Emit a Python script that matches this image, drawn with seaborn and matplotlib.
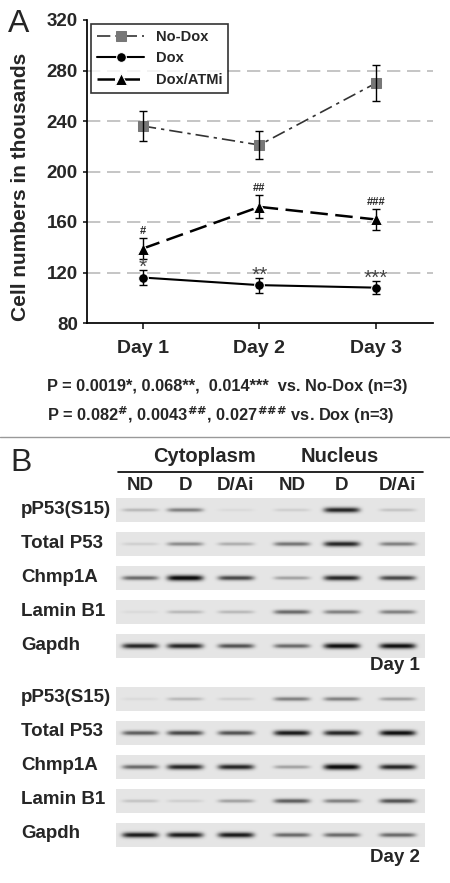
import matplotlib
matplotlib.use("Agg")
import matplotlib.pyplot as plt
import numpy as np
import pandas as pd
import seaborn as sns

# ── Panel A data ──
days = ["Day 1", "Day 2", "Day 3"]
nodox = [236, 221, 270]
nodox_err = [12, 11, 14]
dox = [116, 110, 108]
dox_err = [6, 6, 5]
atmi = [139, 172, 162]
atmi_err = [8, 9, 8]
dox_marks = ["*", "**", "***"]
atmi_marks = ["#", "##", "###"]

# ── Panel B data (relative band intensity per lane: ND, D, D/Ai | ND, D, D/Ai) ──
lanes = ["ND", "D", "D/Ai", "ND", "D", "D/Ai"]
row_names = ["pP53(S15)", "Total P53", "Chmp1A", "Lamin B1", "Gapdh"]
day1_bands = [
    [0.20, 0.45, 0.05, 0.10, 0.85, 0.15],
    [0.10, 0.40, 0.25, 0.50, 0.85, 0.45],
    [0.55, 1.00, 0.70, 0.30, 0.85, 0.70],
    [0.05, 0.20, 0.20, 0.55, 0.45, 0.45],
    [0.85, 0.85, 0.65, 0.55, 0.95, 0.95],
]
day2_bands = [
    [0.05, 0.20, 0.10, 0.45, 0.45, 0.30],
    [0.60, 0.70, 0.65, 0.90, 0.85, 0.95],
    [0.55, 0.85, 0.85, 0.30, 1.00, 0.85],
    [0.15, 0.10, 0.30, 0.60, 0.45, 0.65],
    [0.90, 0.90, 0.90, 0.55, 0.55, 0.55],
]

sns.set_theme(style="white")
plt.rcParams["font.family"] = ["Liberation Sans", "DejaVu Sans"]
plt.rcParams["font.weight"] = "bold"

fig = plt.figure(figsize=(4.5, 8.83), dpi=100)
W, H = 450, 883

# ══════════ Panel A ══════════
ax = fig.add_axes([87 / W, 1 - 323 / H, 346 / W, 303 / H])
x = np.arange(1, 4)
df = pd.DataFrame({"x": x, "nodox": nodox, "dox": dox, "atmi": atmi})
sns.lineplot(data=df, x="x", y="nodox", ax=ax, color="#333333", lw=1.2,
             marker="s", markersize=7, markerfacecolor="#777777",
             markeredgecolor="#777777", label="No-Dox")
ax.lines[-1].set_dashes([8, 3, 2, 3])
sns.lineplot(data=df, x="x", y="dox", ax=ax, color="black", lw=1.5,
             marker="o", markersize=7, label="Dox")
sns.lineplot(data=df, x="x", y="atmi", ax=ax, color="black", lw=1.8,
             marker="^", markersize=8, label="Dox/ATMi")
ax.lines[-1].set_dashes([7, 3])
for y, e in [(nodox, nodox_err), (dox, dox_err), (atmi, atmi_err)]:
    ax.errorbar(x, y, yerr=e, fmt="none", ecolor="black", elinewidth=1, capsize=3)

for xi, yi, ei, m in zip(x, dox, dox_err, dox_marks):
    ax.text(xi, yi + ei + 2, m, ha="center", va="center", fontsize=15, color="#444444",
            fontweight="normal", zorder=6)
for xi, yi, ei, m in zip(x, atmi, atmi_err, atmi_marks):
    ax.text(xi, yi + ei + 2, m, ha="center", va="bottom", fontsize=8)

ax.set_xlim(0.52, 3.49)
ax.set_ylim(80, 320)
ax.set_yticks(range(80, 321, 40))
ax.set_xticks(x)
ax.set_xticklabels(days, fontsize=14, fontweight="bold")
ax.tick_params(axis="y", labelsize=13.5, left=True, length=3)
ax.tick_params(axis="x", bottom=True, length=4, pad=8)
for t in ax.get_yticklabels():
    t.set_fontweight("bold")
for gy in [120, 160, 200, 240, 280]:
    ax.axhline(gy, color="#bbbbbb", lw=1.2, dashes=(8, 4), zorder=0)
ax.set_xlabel("")
ax.set_ylabel("Cell numbers in thousands", fontsize=15, fontweight="bold")
ax.yaxis.set_label_coords(-0.165, 0.45)
for s in ["top", "right"]:
    ax.spines[s].set_visible(False)
for s in ["left", "bottom"]:
    ax.spines[s].set_color("black")
leg = ax.legend(loc="upper left", fontsize=10.5, frameon=True, fancybox=False,
                edgecolor="black", handlelength=3.2, borderaxespad=0.3,
                labelspacing=0.5)
leg.get_frame().set_linewidth(1.2)

# ══════════ Overlay (pixel coords) ══════════
ov = fig.add_axes([0, 0, 1, 1])
ov.set_xlim(0, W)
ov.set_ylim(H, 0)
ov.axis("off")

ov.text(8, 24, "A", fontsize=23, fontweight="normal", va="center")
ov.text(47, 387, "P = 0.0019*, 0.068**,  0.014***  vs. No-Dox (n=3)",
        fontsize=11.8, va="center")
ov.text(47, 415, "P = 0.082$^{\\#}$, 0.0043$^{\\#\\#}$, 0.027$^{\\#\\#\\#}$ vs. Dox (n=3)",
        fontsize=11.8, va="center")
ov.plot([0, W], [437, 437], color="#999999", lw=1)

ov.text(10, 463, "B", fontsize=23, fontweight="normal", va="center")
ov.text(205, 457, "Cytoplasm", fontsize=14.5, ha="center", va="center")
ov.text(340, 457, "Nucleus", fontsize=14.5, ha="center", va="center")
ov.plot([118, 423], [472, 472], color="black", lw=1.2)
lane_x = [140, 185, 236, 292, 342, 398]
for lx, lab in zip(lane_x, lanes):
    ov.text(lx, 485, lab, fontsize=13.5, ha="center", va="center")

xs = np.linspace(116, 425, 400)
ys = np.linspace(-1, 1, 40)


def draw_blot(top, bands):
    for r, (name, vals) in enumerate(zip(row_names, bands)):
        y0 = top + r * 34
        img = np.zeros((len(ys), len(xs)))
        for lx, v in zip(lane_x, vals):
            prof = np.exp(-((xs - lx) / 18.0) ** 6)
            img += v * np.outer(np.exp(-(ys / (0.12 + 0.12 * v)) ** 2), prof)
        rgb = np.clip(0.9 - 0.9 * img, 0.05, 1)
        ov.imshow(np.dstack([rgb] * 3), extent=(116, 425, y0 + 24, y0),
                  aspect="auto", interpolation="bilinear", zorder=1)
        ov.text(21, y0 + 11, name, fontsize=13.5, va="center")


draw_blot(498, day1_bands)
ov.text(420, 665, "Day 1", fontsize=13.5, ha="right", va="center")
draw_blot(687, day2_bands)
ov.text(420, 858, "Day 2", fontsize=13.5, ha="right", va="center")
ov.set_xlim(0, W)
ov.set_ylim(H, 0)

fig.savefig("out.png", dpi=100)
